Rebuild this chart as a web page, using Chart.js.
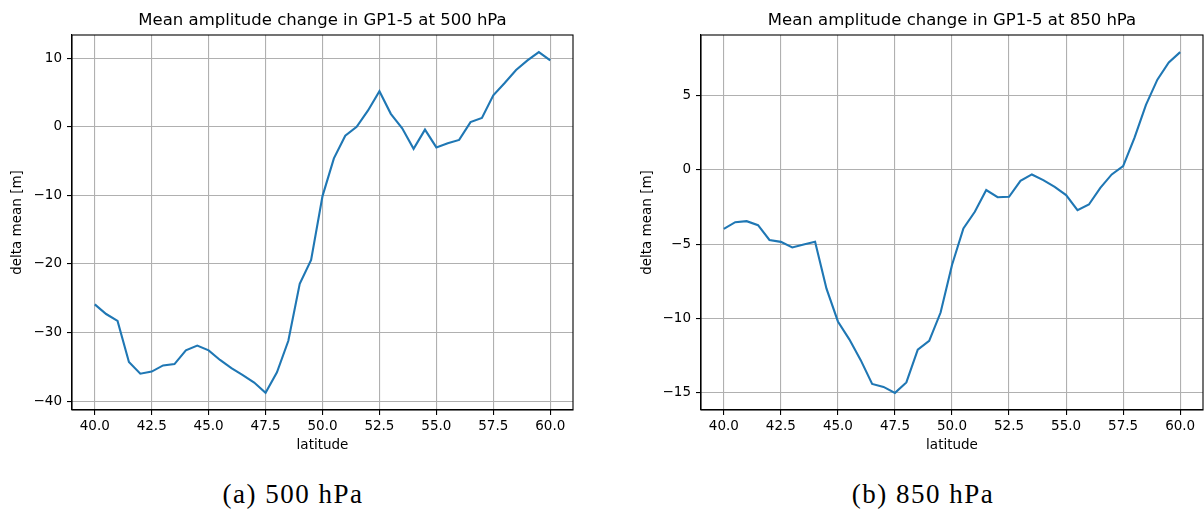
<!DOCTYPE html>
<html>
<head>
<meta charset="utf-8">
<script src="https://cdn.jsdelivr.net/npm/chart.js@4"></script>
<style>
  body { margin: 0; background: #fff; width: 1204px; height: 511px; position: relative; overflow: hidden; }
  canvas { position: absolute; top: 0; }
  #c500 { left: 0; }
  #c850 { left: 620px; }
  .cap { position: absolute; top: 479px; width: 300px; text-align: center; font-family: "Liberation Serif", serif;
         font-size: 27px; line-height: 30px; letter-spacing: 1.5px; color: #000; }
</style>
</head>
<body>
<canvas id="c500" width="600" height="460"></canvas>
<canvas id="c850" width="584" height="460"></canvas>
<div class="cap" style="left:143px">(a) 500 hPa</div>
<div class="cap" style="left:773px">(b) 850 hPa</div>
<script>
// latitudes (every 0.5 deg)
const lats = [40.0, 40.5, 41.0, 41.5, 42.0, 42.5, 43.0, 43.5, 44.0, 44.5,
              45.0, 45.5, 46.0, 46.5, 47.0, 47.5, 48.0, 48.5, 49.0, 49.5,
              50.0, 50.5, 51.0, 51.5, 52.0, 52.5, 53.0, 53.5, 54.0, 54.5,
              55.0, 55.5, 56.0, 56.5, 57.0, 57.5, 58.0, 58.5, 59.0, 59.5, 60.0];

// delta mean [m] at 500 hPa
const mean500 = [-25.9, -27.3, -28.3, -34.3, -36.0, -35.7, -34.8, -34.6, -32.6, -31.9,
                 -32.6, -34.0, -35.2, -36.2, -37.3, -38.8, -35.8, -31.2, -22.9, -19.4,
                 -10.1, -4.6, -1.3, 0.0, 2.4, 5.2, 1.9, -0.2, -3.2, -0.4,
                 -3.0, -2.4, -1.9, 0.7, 1.3, 4.6, 6.4, 8.3, 9.7, 10.9, 9.7];

// delta mean [m] at 850 hPa
const mean850 = [-3.98, -3.53, -3.46, -3.73, -4.72, -4.85, -5.23, -5.03, -4.85, -8.0,
                 -10.2, -11.4, -12.8, -14.4, -14.6, -15.0, -14.3, -12.1, -11.5, -9.6,
                 -6.4, -3.95, -2.83, -1.37, -1.85, -1.82, -0.75, -0.32, -0.70, -1.15,
                 -1.71, -2.72, -2.34, -1.22, -0.32, 0.24, 2.15, 4.35, 6.05, 7.2, 7.9];

const xTicks = [40, 42.5, 45, 47.5, 50, 52.5, 55, 57.5, 60];
const yTicks500 = [-40, -30, -20, -10, 0, 10];
const yTicks850 = [-15, -10, -5, 0, 5];

const tickFont = { family: "DejaVu Sans", size: 13.5 };

// full box around the plot area, like matplotlib spines
const frame = {
    id: "frame",
    afterDraw(chart) {
        const a = chart.chartArea, ctx = chart.ctx;
        ctx.save();
        ctx.strokeStyle = "#000";
        ctx.lineWidth = 1.1;
        ctx.strokeRect(a.left, a.top, a.right - a.left, a.bottom - a.top);
        ctx.restore();
    }
};

function minus(v) {
    return String(v).replace("-", "\u2212");
}

function makeChart(id, title, vals, yTicks, yMin, yMax, yWidth, yTitlePad, padRight) {
    return new Chart(id, {
        type: "line",
        data: {
            datasets: [{
                data: lats.map((x, i) => ({x: x, y: vals[i]})),
                borderColor: "#1f77b4",
                borderWidth: 2.1,
                pointRadius: 0,
                tension: 0,
                fill: false
            }]
        },
        options: {
            responsive: false,
            animation: false,
            layout: { padding: { left: 0, right: padRight, top: 0, bottom: 0 } },
            plugins: {
                legend: { display: false },
                tooltip: { enabled: false },
                title: {
                    display: true,
                    text: title,
                    fullSize: false,
                    color: "#000",
                    font: { family: "DejaVu Sans", size: 16.5, weight: "normal" },
                    padding: { top: 11, bottom: 4.2 }
                }
            },
            scales: {
                x: {
                    type: "linear",
                    min: 39, max: 61,
                    afterBuildTicks: s => { s.ticks = xTicks.map(v => ({value: v})); },
                    afterFit: s => { s.height = 50; },
                    ticks: {
                        autoSkip: false, maxRotation: 0, padding: 3.5, color: "#000", font: tickFont,
                        callback: v => v.toFixed(1)
                    },
                    grid: { color: "#b0b0b0", lineWidth: 1.1, tickLength: 5, tickColor: "#000" },
                    border: { color: "#000", width: 1.1 },
                    title: { display: true, text: "latitude", color: "#000", font: tickFont, padding: { top: 0, bottom: 6 } }
                },
                y: {
                    min: yMin, max: yMax,
                    afterBuildTicks: s => { s.ticks = yTicks.map(v => ({value: v})); },
                    afterFit: s => { s.width = yWidth; },
                    ticks: { autoSkip: false, padding: 5, color: "#000", font: tickFont, callback: v => minus(v) },
                    grid: { color: "#b0b0b0", lineWidth: 1.1, tickLength: 5, tickColor: "#000" },
                    border: { color: "#000", width: 1.1 },
                    title: { display: true, text: "delta mean [m]", color: "#000", font: tickFont, padding: { top: yTitlePad, bottom: 0 } }
                }
            }
        },
        plugins: [frame]
    });
}

makeChart("c500", "Mean amplitude change in GP1-5 at 500 hPa", mean500, yTicks500, -41.3, 13.4, 72, 9, 27);
makeChart("c850", "Mean amplitude change in GP1-5 at 850 hPa", mean850, yTicks850, -16.15, 9.05, 81, 19, 1);
</script>
</body>
</html>
